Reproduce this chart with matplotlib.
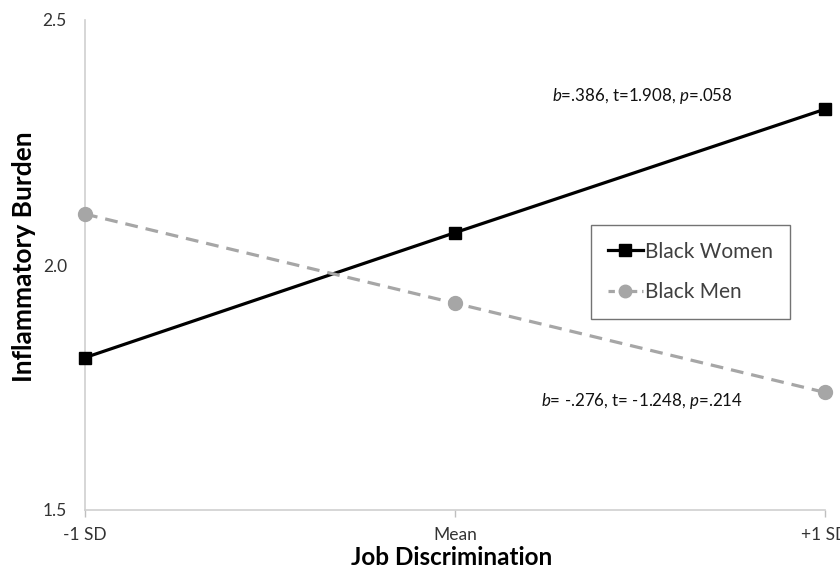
import matplotlib
matplotlib.use("Agg")
import matplotlib.pyplot as plt
from matplotlib.lines import Line2D

# Simple slopes of job discrimination on inflammatory burden
x_labels = ["-1 SD", "Mean", "+1 SD"]
women_values = [1.811, 2.066, 2.318]
men_values = [2.104, 1.922, 1.740]
y_ticks = [1.5, 2.0, 2.5]
y_tick_labels = ["1.5", "2.0", "2.5"]
women_stats = r"$\it{b}$=.386, t=1.908, $\it{p}$=.058"
men_stats = r"$\it{b}$= -.276, t= -1.248, $\it{p}$=.214"

plt.rcParams["font.family"] = ["Lato", "DejaVu Sans"]
plt.rcParams["mathtext.fontset"] = "custom"
plt.rcParams["mathtext.it"] = "Lato:italic"
plt.rcParams["mathtext.rm"] = "Lato"

fig = plt.figure(figsize=(8.4, 5.71), dpi=100)
ax = fig.add_axes([85 / 840, 1 - 510 / 571, 740 / 840, 490 / 571])

xs = list(range(len(x_labels)))
black = "#000000"
grey = "#A6A6A6"

ax.plot(xs, women_values, color=black, lw=2.3, marker="s", markersize=8.5,
        clip_on=False, zorder=3)
ax.plot(xs, men_values, color=grey, lw=2.3, ls=(0, (4, 2.5)), marker="o",
        markersize=10, clip_on=False, zorder=3)

ax.set_xlim(0, 2)
ax.set_ylim(1.5, 2.5)
ax.set_xticks(xs)
ax.set_xticklabels(x_labels, fontsize=12.5, color="#333333")
ax.set_yticks(y_ticks)
ax.set_yticklabels(y_tick_labels, fontsize=12.5, color="#333333")
ax.tick_params(axis="y", length=0, pad=13)
ax.tick_params(axis="x", length=5, width=1, color="#BFBFBF", pad=7.5)

for side in ("top", "right"):
    ax.spines[side].set_visible(False)
for side in ("left", "bottom"):
    ax.spines[side].set_color("#CFCFCF")
    ax.spines[side].set_linewidth(1.2)

ax.set_xlabel("Job Discrimination", fontsize=17.5, fontweight="bold")
ax.set_ylabel("Inflammatory Burden", fontsize=19, fontweight="bold")
ax.xaxis.set_label_coords(0.495, -0.073)
ax.yaxis.set_label_coords(-0.066, 0.516)

ax.text(1.505, 2.344, women_stats, fontsize=12.2, ha="center", va="center", color="#111111")
ax.text(1.505, 1.723, men_stats, fontsize=12.2, ha="center", va="center", color="#111111")

handles = [
    Line2D([], [], color=black, lw=2.3, marker="s", markersize=8.5),
    Line2D([], [], color=grey, lw=2.3, ls=(0, (2, 1.5)), marker="o", markersize=9),
]
leg = ax.legend(handles, ["Black Women", "Black Men"], loc="center left",
                bbox_to_anchor=((591 - 85) / 740, (510 - 272) / 490),
                fontsize=15, frameon=True, fancybox=False, handlelength=1.7,
                handletextpad=0.1, labelspacing=1.0, borderpad=0.8,
                borderaxespad=0, labelcolor="#404040")
leg.get_frame().set_edgecolor("#505050")
leg.get_frame().set_linewidth(1.0)

fig.savefig("out.png", dpi=100, facecolor="white")
